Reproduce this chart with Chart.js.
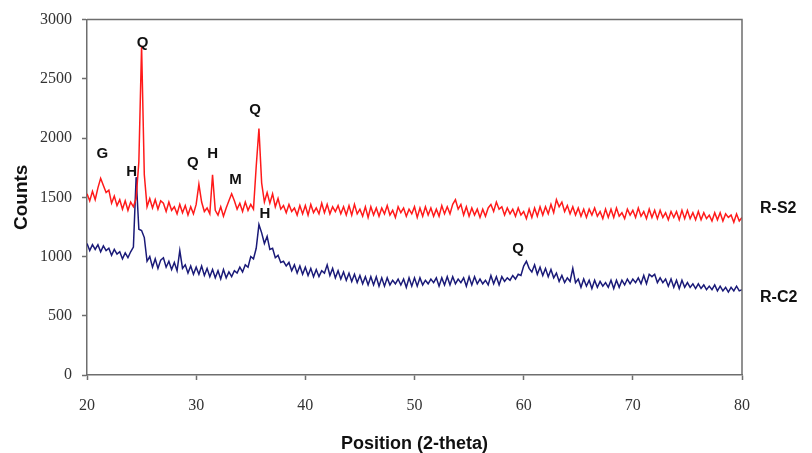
<!DOCTYPE html>
<html>
<head>
<meta charset="utf-8">
<script src="https://cdn.jsdelivr.net/npm/chart.js@4.4.1/dist/chart.umd.min.js"></script>
<style>
    body { margin: 0; background: #ffffff; }
    #caixa { width: 812px; height: 453px; }
</style>
</head>
<body>
<div id="caixa"><canvas id="grafico"></canvas></div>
<script>
// 2-theta grid: first angle and step between readings
const anguloInicial = 20;
const passoAngulo = 0.25;

// R-S2 (red), 4 readings per degree, 20.00 .. 80.00
const contagensS2 = [
    1530, 1470, 1550, 1480,  // 20
    1580, 1660, 1600, 1540,  // 21
    1560, 1450, 1510, 1430,  // 22
    1480, 1400, 1470, 1390,  // 23
    1460, 1420, 1490, 1800,  // 24
    2780, 1690, 1420, 1490,  // 25
    1410, 1480, 1400, 1470,  // 26
    1450, 1380, 1460, 1390,  // 27
    1420, 1360, 1440, 1370,  // 28
    1430, 1350, 1420, 1360,  // 29
    1440, 1610, 1460, 1380,  // 30
    1410, 1360, 1690, 1390,  // 31
    1350, 1420, 1340, 1410,  // 32
    1470, 1530, 1470, 1400,  // 33
    1450, 1380, 1460, 1390,  // 34
    1440, 1400, 1760, 2080,  // 35
    1620, 1460, 1540, 1450,  // 36
    1530, 1420, 1490, 1400,  // 37
    1430, 1370, 1440, 1380,  // 38
    1410, 1350, 1430, 1360,  // 39
    1430, 1350, 1440, 1370,  // 40
    1410, 1360, 1450, 1370,  // 41
    1440, 1360, 1420, 1380,  // 42
    1430, 1360, 1420, 1350,  // 43
    1430, 1350, 1440, 1360,  // 44
    1400, 1340, 1420, 1330,  // 45
    1420, 1350, 1410, 1340,  // 46
    1410, 1360, 1430, 1350,  // 47
    1390, 1330, 1420, 1370,  // 48
    1410, 1340, 1400, 1360,  // 49
    1420, 1330, 1410, 1340,  // 50
    1420, 1350, 1410, 1340,  // 51
    1400, 1340, 1430, 1360,  // 52
    1420, 1360, 1440, 1480,  // 53
    1400, 1440, 1350, 1420,  // 54
    1340, 1410, 1350, 1400,  // 55
    1330, 1400, 1340, 1410,  // 56
    1440, 1380, 1460, 1400,  // 57
    1420, 1350, 1410, 1360,  // 58
    1400, 1340, 1410, 1350,  // 59
    1380, 1320, 1400, 1330,  // 60
    1410, 1340, 1420, 1350,  // 61
    1420, 1360, 1440, 1370,  // 62
    1480, 1420, 1460, 1380,  // 63
    1430, 1360, 1420, 1350,  // 64
    1410, 1340, 1400, 1330,  // 65
    1400, 1350, 1410, 1340,  // 66
    1380, 1320, 1400, 1330,  // 67
    1400, 1330, 1410, 1340,  // 68
    1370, 1320, 1400, 1350,  // 69
    1390, 1330, 1410, 1340,  // 70
    1380, 1320, 1400, 1330,  // 71
    1390, 1320, 1390, 1330,  // 72
    1370, 1310, 1380, 1330,  // 73
    1380, 1310, 1390, 1320,  // 74
    1390, 1320, 1370, 1310,  // 75
    1380, 1310, 1370, 1320,  // 76
    1350, 1300, 1370, 1310,  // 77
    1370, 1300, 1360, 1330,  // 78
    1350, 1290, 1360, 1300,  // 79
    1330                     // 80
];

// R-C2 (navy), same grid
const contagensC2 = [
    1110, 1050, 1100, 1060,  // 20
    1100, 1040, 1090, 1050,  // 21
    1070, 1010, 1060, 1020,  // 22
    1040,  980, 1030,  990,  // 23
    1040, 1080, 1670, 1230,  // 24
    1220, 1160,  960, 1000,  // 25
     910,  980,  900,  970,  // 26
     990,  910,  960,  890,  // 27
     950,  880, 1050,  900,  // 28
     930,  860,  920,  850,  // 29
     910,  850,  920,  840,  // 30
     900,  830,  890,  820,  // 31
     880,  810,  890,  820,  // 32
     870,  830,  880,  860,  // 33
     910,  870,  930,  910,  // 34
    1000,  980, 1070, 1270,  // 35
    1200, 1110, 1170, 1060,  // 36
    1070,  990, 1010,  950,  // 37
     960,  920,  950,  880,  // 38
     930,  860,  920,  850,  // 39
     910,  840,  900,  830,  // 40
     890,  830,  880,  860,  // 41
     930,  840,  900,  820,  // 42
     880,  810,  870,  800,  // 43
     860,  790,  850,  780,  // 44
     840,  770,  830,  760,  // 45
     830,  760,  830,  750,  // 46
     820,  750,  820,  760,  // 47
     800,  770,  810,  760,  // 48
     810,  740,  820,  750,  // 49
     820,  750,  820,  760,  // 50
     800,  770,  810,  780,  // 51
     820,  750,  820,  760,  // 52
     830,  760,  830,  770,  // 53
     810,  780,  820,  750,  // 54
     830,  760,  830,  770,  // 55
     810,  770,  800,  760,  // 56
     840,  770,  830,  760,  // 57
     830,  790,  820,  800,  // 58
     840,  810,  850,  840,  // 59
     920,  960,  900,  870,  // 60
     930,  850,  910,  840,  // 61
     900,  830,  890,  820,  // 62
     860,  790,  840,  780,  // 63
     820,  790,  900,  780,  // 64
     810,  740,  810,  750,  // 65
     800,  730,  800,  740,  // 66
     790,  750,  780,  740,  // 67
     800,  730,  800,  740,  // 68
     800,  760,  810,  770,  // 69
     810,  780,  820,  770,  // 70
     840,  770,  850,  830,  // 71
     850,  780,  820,  780,  // 72
     810,  750,  810,  740,  // 73
     800,  730,  800,  740,  // 74
     780,  740,  770,  730,  // 75
     770,  730,  760,  720,  // 76
     750,  720,  760,  710,  // 77
     750,  710,  740,  700,  // 78
     740,  710,  750,  710,  // 79
     720                     // 80
];

// peak labels
const picoTexto = ['G', 'Q', 'H', 'Q', 'H', 'M', 'Q', 'H', 'Q'];
const picoAngulo = [21.4, 25.1, 24.1, 29.7, 31.5, 33.6, 35.4, 36.3, 59.5];
const picoContagem = [1865, 2805, 1715, 1790, 1865, 1645, 2235, 1360, 1065];

// sample names at the right edge
const amostraTexto = ['R-S2', 'R-C2'];
const amostraContagem = [1403, 655];

const eixoX = { min: 20, max: 80, passo: 10 };
const eixoY = { min: 0, max: 3000, passo: 500 };

function montarPontos(contagens) {
    let pontos = [];
    for (let i = 0; i < contagens.length; i++) {
        pontos.push({ x: anguloInicial + i * passoAngulo, y: contagens[i] });
    }
    return pontos;
}

const corEixo = '#6e6e6e';
const fonteSerif = '"Liberation Serif", "Times New Roman", serif';
const fonteSans = '"Liberation Sans", Arial, sans-serif';

const moldura = {
    id: 'moldura',
    afterDraw(chart) {
        const ctx = chart.ctx;
        const area = chart.chartArea;
        const x = chart.scales.x;
        const y = chart.scales.y;

        // top and right border of the plot box
        ctx.save();
        ctx.strokeStyle = corEixo;
        ctx.lineWidth = 1.5;
        ctx.beginPath();
        ctx.moveTo(area.left, area.top);
        ctx.lineTo(area.right, area.top);
        ctx.lineTo(area.right, area.bottom);
        ctx.stroke();

        ctx.fillStyle = '#111111';
        ctx.textAlign = 'center';
        ctx.textBaseline = 'middle';
        ctx.font = 'bold 15px ' + fonteSans;
        for (let i = 0; i < picoTexto.length; i++) {
            ctx.fillText(picoTexto[i], x.getPixelForValue(picoAngulo[i]), y.getPixelForValue(picoContagem[i]));
        }

        ctx.textAlign = 'left';
        ctx.font = 'bold 16px ' + fonteSans;
        for (let i = 0; i < amostraTexto.length; i++) {
            ctx.fillText(amostraTexto[i], area.right + 18, y.getPixelForValue(amostraContagem[i]));
        }
        ctx.restore();
    }
};

let config = {
    type: 'line',
    data: {
        datasets: [{
            label: 'R-S2',
            data: montarPontos(contagensS2),
            borderColor: '#ff1a1a',
            borderWidth: 1.5,
            pointRadius: 0,
            tension: 0
        }, {
            label: 'R-C2',
            data: montarPontos(contagensC2),
            borderColor: '#1a1a78',
            borderWidth: 1.5,
            pointRadius: 0,
            tension: 0
        }]
    },
    options: {
        responsive: true,
        maintainAspectRatio: false,
        animation: false,
        layout: {
            padding: { left: 0, top: 18, right: 70, bottom: 0 }
        },
        plugins: {
            legend: { display: false },
            tooltip: { enabled: false }
        },
        scales: {
            x: {
                type: 'linear',
                min: eixoX.min,
                max: eixoX.max,
                afterFit: function (escala) { escala.height = 78; },
                border: { display: true, color: corEixo, width: 1.5 },
                grid: { drawOnChartArea: false, tickLength: 5, tickColor: corEixo, tickWidth: 1.5 },
                ticks: {
                    stepSize: eixoX.passo,
                    padding: 16,
                    color: '#333333',
                    maxRotation: 0,
                    callback: function (valor) { return String(valor); },
                    font: { family: fonteSerif, size: 16 }
                },
                title: {
                    display: true,
                    text: 'Position (2-theta)',
                    color: '#111111',
                    font: { family: fonteSans, size: 18, weight: 'bold', lineHeight: 1 },
                    padding: { top: 0, bottom: 0 }
                }
            },
            y: {
                min: eixoY.min,
                max: eixoY.max,
                afterFit: function (escala) { escala.width = 87; },
                border: { display: true, color: corEixo, width: 1.5 },
                grid: { drawOnChartArea: false, tickLength: 5, tickColor: corEixo, tickWidth: 1.5 },
                ticks: {
                    stepSize: eixoY.passo,
                    padding: 10,
                    color: '#333333',
                    callback: function (valor) { return String(valor); },
                    font: { family: fonteSerif, size: 16 }
                },
                title: {
                    display: true,
                    text: 'Counts',
                    color: '#111111',
                    font: { family: fonteSans, size: 19, weight: 'bold', lineHeight: 1 },
                    padding: { top: 12, bottom: 0 }
                }
            }
        }
    },
    plugins: [moldura]
};

let meuGrafico = new Chart(document.getElementById('grafico'), config);
</script>
</body>
</html>
